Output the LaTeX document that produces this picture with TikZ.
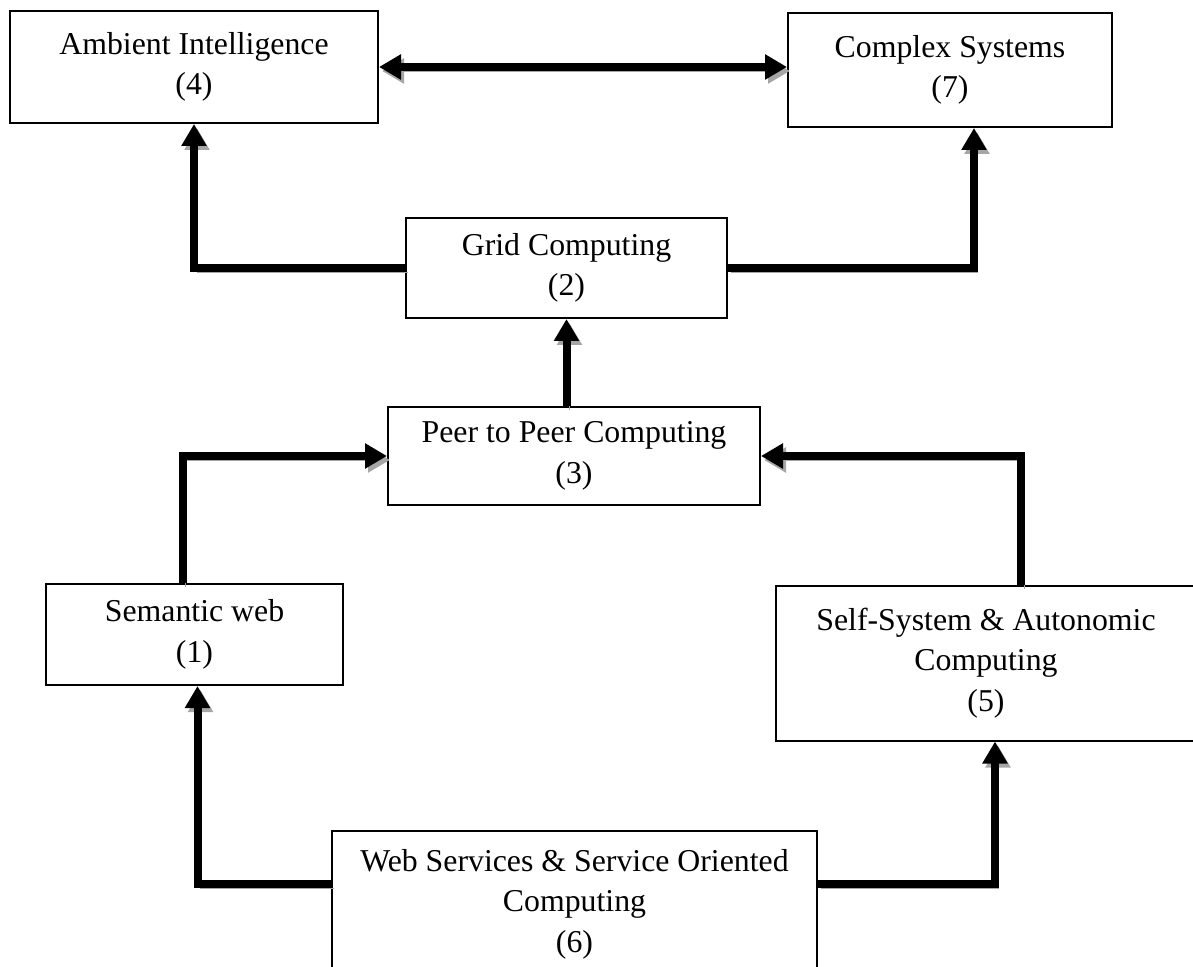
\documentclass[tikz,border=0pt]{standalone}
\usepackage{fontspec}
\setmainfont{Liberation Serif}
\usetikzlibrary{arrows.meta,positioning}
\tikzset{
    %Define standard arrow tip
    >={Triangle[length=11pt,width=12pt]},
    %Define style for boxes
    boks/.style={
           rectangle,
           draw=black,
           line width=1pt,
           inner sep=2pt,
           align=center,
           font=\fontsize{15.9pt}{20.3pt}\selectfont},
    % Define arrow style
    strek/.style={
           line width=4pt,
           preaction={draw=black!35,
                      transform canvas={shift={(1.5pt,-2pt)}}}}
}
\begin{document}
\begin{tikzpicture}[x=0.5pt,y=-0.5pt]
  \useasboundingbox (0,0) rectangle (1193,967);
  \clip (0,0) rectangle (1193,967);
  \node[boks,minimum width=184pt,minimum height=56pt] (ambient) at (194,67)
    {Ambient Intelligence\\(4)};
  \node[boks,minimum width=162pt,minimum height=57pt] (complex) at (950,70)
    {Complex Systems\\(7)};
  \node[boks,minimum width=160.5pt,minimum height=50pt] (grid) at (566.5,268)
    {Grid Computing\\(2)};
  \node[boks,minimum width=186pt,minimum height=49pt] (peer) at (574,456)
    {Peer to Peer Computing\\(3)};
  \node[boks,minimum width=148.5pt,minimum height=50.5pt] (semantic) at (194.5,634.5)
    {Semantic web\\(1)};
  \node[boks,minimum width=210pt,minimum height=77.5pt] (self) at (986,663)
    {Self-System \& Autonomic\\Computing\\(5)};
  \node[boks,minimum width=242.5pt,minimum height=73pt] (websvc) at (574.5,904)
    {Web Services \& Service Oriented\\Computing\\(6)};

  \draw[strek,<->] (ambient.east) -- (ambient.east -| complex.west);
  \draw[strek,->] (grid.west) -| (ambient.south);
  \draw[strek,->] (grid.east) -| ([xshift=12pt]complex.south);
  \draw[strek,->] (grid.south |- peer.north) -- (grid.south);
  \draw[strek,->] ([xshift=-6pt]semantic.north) |- (peer.west);
  \draw[strek,->] ([xshift=17.5pt]self.north) |- (peer.east);
  \draw[strek,->] ([yshift=10pt]websvc.west) -| ([xshift=1.5pt]semantic.south);
  \draw[strek,->] ([yshift=10pt]websvc.east) -| ([xshift=4.5pt]self.south);
\end{tikzpicture}
\end{document}
